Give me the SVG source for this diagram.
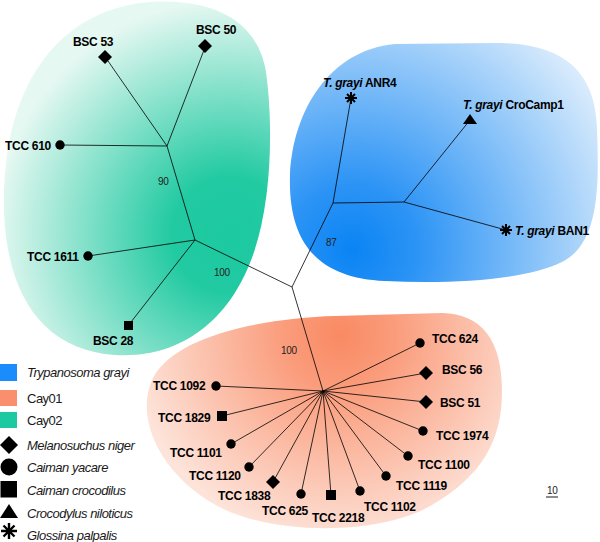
<svg xmlns="http://www.w3.org/2000/svg" width="600" height="542" viewBox="0 0 600 542">
<defs>
<radialGradient id="gGreen" gradientUnits="userSpaceOnUse" cx="230" cy="235" r="235">
<stop offset="0" stop-color="#1cc9a0"/><stop offset="0.25" stop-color="#22caa2"/><stop offset="1" stop-color="#e6f8f2"/>
</radialGradient>
<radialGradient id="gBlue" gradientUnits="userSpaceOnUse" cx="352" cy="250" r="290">
<stop offset="0" stop-color="#0a84f4"/><stop offset="0.22" stop-color="#2b93f5"/><stop offset="1" stop-color="#dcedfc"/>
</radialGradient>
<radialGradient id="gOrange" gradientUnits="userSpaceOnUse" cx="340" cy="335" r="210">
<stop offset="0" stop-color="#f98a63"/><stop offset="0.25" stop-color="#fa9b7a"/><stop offset="1" stop-color="#fde4da"/>
</radialGradient>
</defs>
<style>
.lbl{font-family:"Liberation Sans",Arial,sans-serif;font-weight:bold;font-size:12px;letter-spacing:-0.3px;fill:#000}
.sup{font-family:"Liberation Sans",Arial,sans-serif;font-size:10px;letter-spacing:-0.3px;fill:#222}
.leg{font-family:"Liberation Sans",Arial,sans-serif;font-size:13px;letter-spacing:-0.5px;fill:#1a1a1a}
.it{font-style:italic}
.br{stroke:#000;stroke-width:0.8;fill:none}
.ast{stroke:#000;stroke-width:2;fill:none}
.sym{fill:#000}
</style>
<g id="blobs">
<path d="M150,2 C70,8 8,70 4,190 C1,290 40,350 115,355 C185,359 232,315 253,255 C274,195 272,115 266,72 C258,22 215,-2 150,2 Z" fill="url(#gGreen)"/>
<path d="M395,44 C330,50 293,110 290,175 C288,240 315,278 385,281 C455,284 525,280 562,262 C600,243 599,185 597,128 C595,68 560,43 495,43 Z" fill="url(#gBlue)"/>
<path d="M335,316 C265,318 175,335 153,378 C132,420 165,484 230,512 C290,536 385,533 432,505 C482,476 502,440 502,392 C502,340 482,314 442,313 Z" fill="url(#gOrange)"/>
</g>
<g id="connectors" class="br">
<polyline points="108,61 167,146 204,50"/>
<line x1="60" y1="145" x2="167" y2="146"/>
<line x1="167" y1="146" x2="195" y2="240"/>
<line x1="88" y1="256" x2="195" y2="240"/>
<line x1="195" y1="240" x2="131" y2="322"/>
<line x1="195" y1="240" x2="292" y2="287"/>
<line x1="292" y1="287" x2="333" y2="203"/>
<line x1="333" y1="203" x2="351" y2="98"/>
<line x1="333" y1="203" x2="404" y2="202"/>
<line x1="404" y1="202" x2="470" y2="120"/>
<line x1="404" y1="202" x2="506" y2="230"/>
<line x1="292" y1="287" x2="323" y2="391"/>
<line x1="323" y1="391" x2="420" y2="343"/>
<line x1="323" y1="391" x2="426" y2="373"/>
<line x1="323" y1="391" x2="426" y2="402"/>
<line x1="323" y1="391" x2="423" y2="431"/>
<line x1="323" y1="391" x2="408" y2="456"/>
<line x1="323" y1="391" x2="386" y2="476"/>
<line x1="323" y1="391" x2="360" y2="491"/>
<line x1="323" y1="391" x2="331" y2="495"/>
<line x1="323" y1="391" x2="301" y2="494"/>
<line x1="323" y1="391" x2="273" y2="482"/>
<line x1="323" y1="391" x2="249" y2="467"/>
<line x1="323" y1="391" x2="231" y2="444"/>
<line x1="323" y1="391" x2="222" y2="416"/>
<line x1="323" y1="391" x2="216" y2="386"/>
</g>
<g id="supports">
<text class="sup" x="158" y="185">90</text>
<text class="sup" x="214" y="276">100</text>
<text class="sup" x="326" y="246">87</text>
<text class="sup" x="281" y="354">100</text>
</g>
<g id="n-bsc53"><polygon class="sym" points="105,50 112,57 105,64 98,57"/><text class="lbl" x="73" y="46">BSC 53</text></g>
<g id="n-bsc50"><polygon class="sym" points="205,39 212,46 205,53 198,46"/><text class="lbl" x="196" y="34">BSC 50</text></g>
<g id="n-tcc610"><circle class="sym" cx="60" cy="145" r="4.7"/><text class="lbl" x="5" y="150">TCC 610</text></g>
<g id="n-tcc1611"><circle class="sym" cx="88" cy="256" r="4.7"/><text class="lbl" x="27" y="261">TCC 1611</text></g>
<g id="n-bsc28"><rect class="sym" x="124" y="321" width="9" height="9"/><text class="lbl" x="93" y="345">BSC 28</text></g>
<g id="n-anr4"><path class="ast" d="M351,92 V104 M345,98 H357 M347,94 L355,102 M355,94 L347,102"/><text class="lbl" x="323" y="87"><tspan class="it">T. grayi</tspan> ANR4</text></g>
<g id="n-crocamp1"><polygon class="sym" points="470,114 477,124 463,124"/><text class="lbl" x="463" y="109"><tspan class="it">T. grayi</tspan> CroCamp1</text></g>
<g id="n-ban1"><path class="ast" d="M506,224 V236 M500,230 H512 M502,226 L510,234 M510,226 L502,234"/><text class="lbl" x="515" y="235"><tspan class="it">T. grayi</tspan> BAN1</text></g>
<g id="n-tcc624"><circle class="sym" cx="420" cy="343" r="4.7"/><text class="lbl" x="432" y="343">TCC 624</text></g>
<g id="n-bsc56"><polygon class="sym" points="426,366 433,373 426,380 419,373"/><text class="lbl" x="442" y="374">BSC 56</text></g>
<g id="n-bsc51"><polygon class="sym" points="426,395 433,402 426,409 419,402"/><text class="lbl" x="440" y="407">BSC 51</text></g>
<g id="n-tcc1974"><circle class="sym" cx="423" cy="431" r="4.7"/><text class="lbl" x="436" y="440">TCC 1974</text></g>
<g id="n-tcc1100"><circle class="sym" cx="408" cy="456" r="4.7"/><text class="lbl" x="418" y="469">TCC 1100</text></g>
<g id="n-tcc1119"><circle class="sym" cx="386" cy="476" r="4.7"/><text class="lbl" x="396" y="490">TCC 1119</text></g>
<g id="n-tcc1102"><circle class="sym" cx="360" cy="491" r="4.7"/><text class="lbl" x="364" y="511">TCC 1102</text></g>
<g id="n-tcc2218"><rect class="sym" x="326" y="490" width="10" height="10"/><text class="lbl" x="312" y="522">TCC 2218</text></g>
<g id="n-tcc625"><circle class="sym" cx="301" cy="494" r="4.7"/><text class="lbl" x="262" y="515">TCC 625</text></g>
<g id="n-tcc1838"><polygon class="sym" points="273,475 280,482 273,489 266,482"/><text class="lbl" x="218" y="500">TCC 1838</text></g>
<g id="n-tcc1120"><circle class="sym" cx="249" cy="467" r="4.7"/><text class="lbl" x="189" y="480">TCC 1120</text></g>
<g id="n-tcc1101"><circle class="sym" cx="231" cy="444" r="4.7"/><text class="lbl" x="170" y="457">TCC 1101</text></g>
<g id="n-tcc1829"><rect class="sym" x="217" y="411" width="10" height="10"/><text class="lbl" x="158" y="422">TCC 1829</text></g>
<g id="n-tcc1092"><circle class="sym" cx="216" cy="386" r="4.7"/><text class="lbl" x="153" y="390">TCC 1092</text></g>
<g id="legend">
<rect x="0" y="364" width="17" height="17" fill="#1a8cfb"/><text class="leg it" x="27" y="377">Trypanosoma grayi</text>
<rect x="0" y="390" width="17" height="16" fill="#f98f6c"/><text class="leg" x="27" y="403">Cay01</text>
<rect x="0" y="412" width="17" height="16" fill="#1dc9a0"/><text class="leg" x="27" y="425">Cay02</text>
<polygon class="sym" points="9,436 18,445 9,454 0,445"/><text class="leg it" x="27" y="450">Melanosuchus niger</text>
<circle class="sym" cx="9" cy="467" r="8.5"/><text class="leg it" x="27" y="472">Caiman yacare</text>
<rect class="sym" x="0.5" y="481" width="16.5" height="16.5"/><text class="leg it" x="27" y="495">Caiman crocodilus</text>
<polygon class="sym" points="9,504 18,518 0,518"/><text class="leg it" x="27" y="518">Crocodylus niloticus</text>
<path stroke="#000" stroke-width="2.4" d="M9,523 V539 M1,531 H17 M3.5,525.5 L14.5,536.5 M14.5,525.5 L3.5,536.5"/><text class="leg it" x="27" y="540">Glossina palpalis</text>
</g>
<g id="scale">
<text class="sup" x="547" y="494" font-size="11">10</text>
<line x1="546" y1="497" x2="558" y2="497" stroke="#000" stroke-width="0.9"/>
</g>
</svg>
